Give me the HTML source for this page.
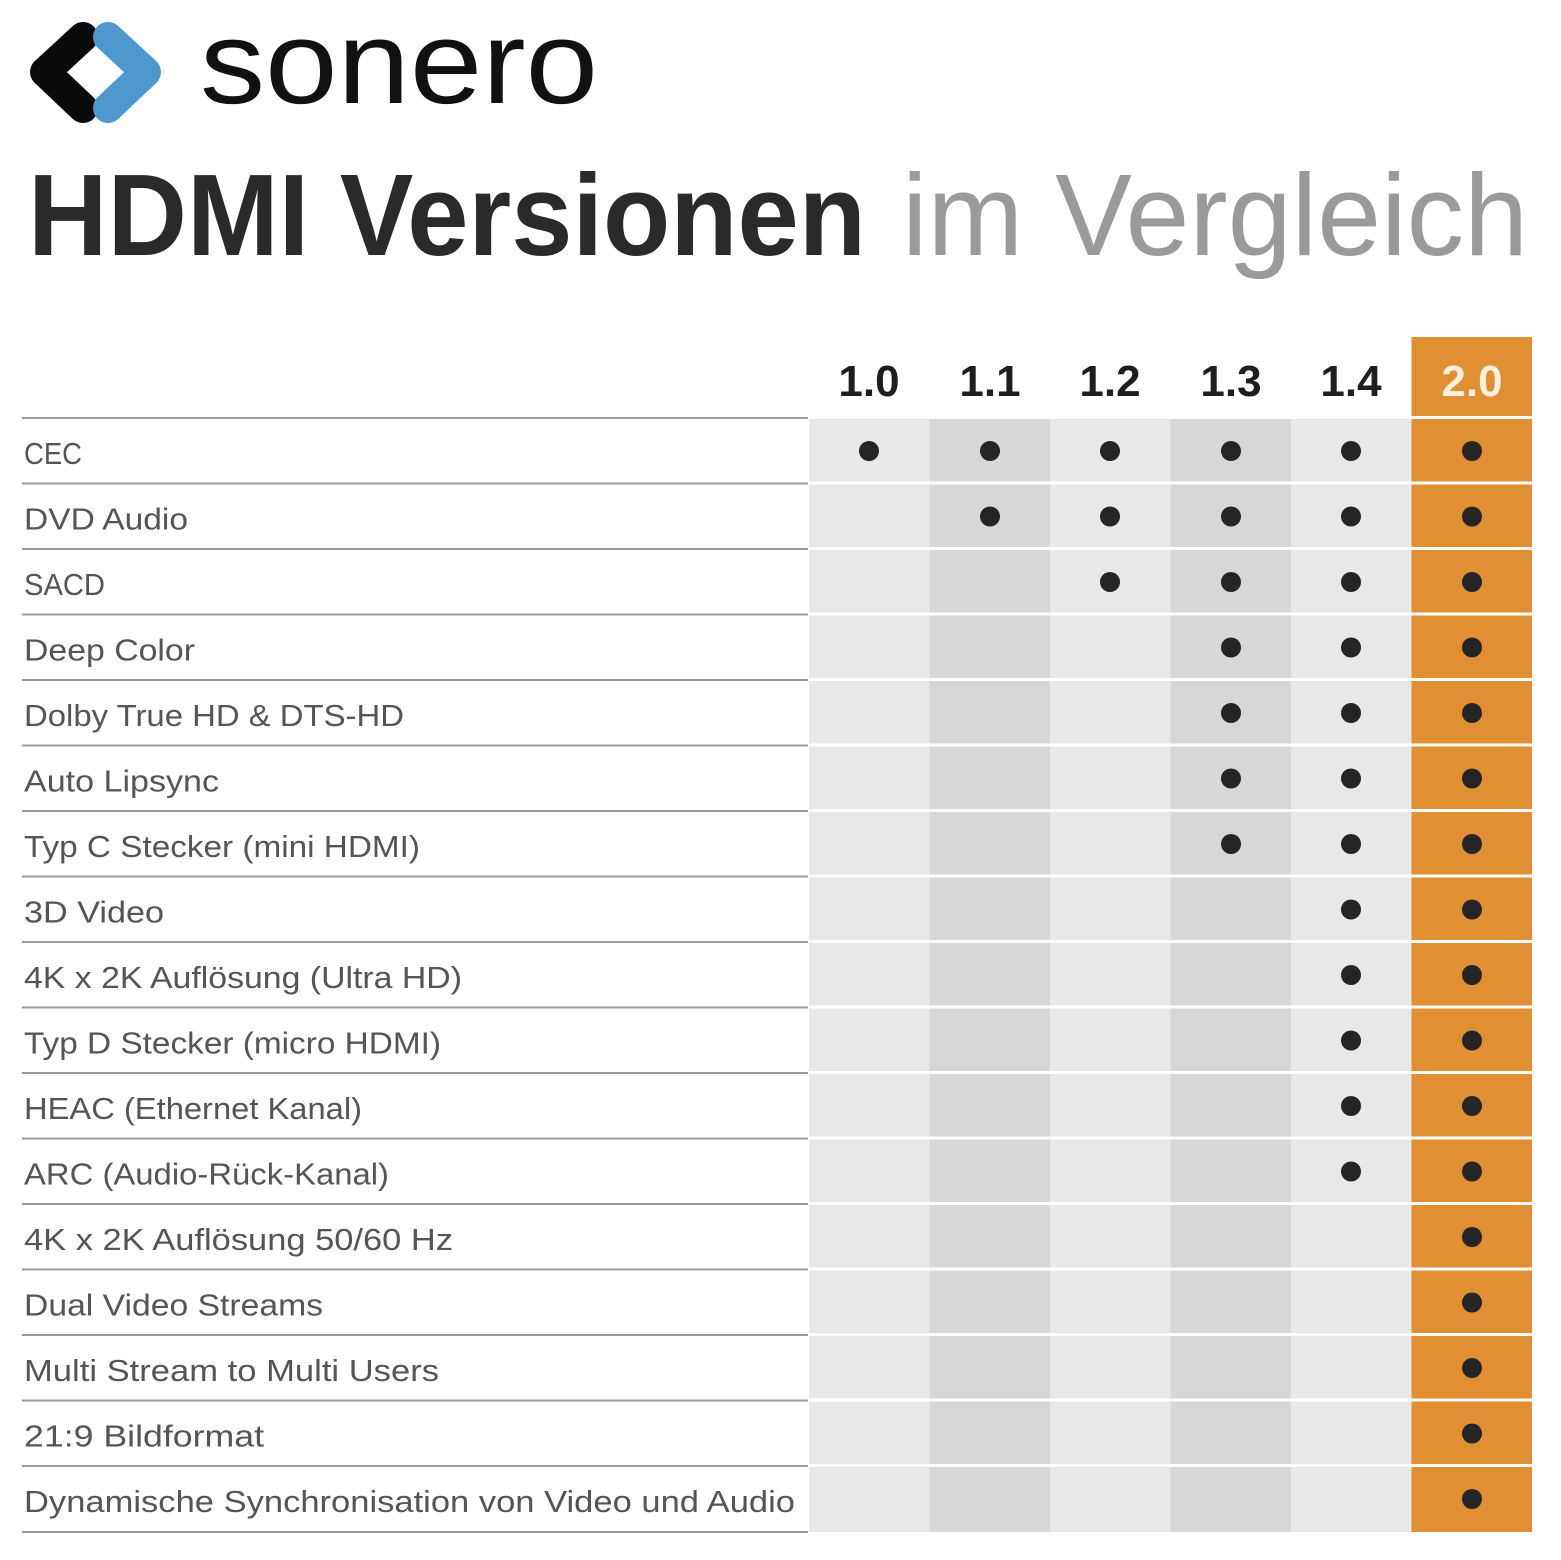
<!DOCTYPE html>
<html><head><meta charset="utf-8"><style>html,body{margin:0;padding:0;background:#fff}svg{display:block}</style></head><body>
<svg width="1561" height="1560" viewBox="0 0 1561 1560" xmlns="http://www.w3.org/2000/svg" font-family="Liberation Sans, sans-serif">
<rect width="1561" height="1560" fill="#fff"/>
<!-- logo -->
<polyline points="83,37 45,72 83,108" fill="none" stroke="#0a0a0a" stroke-width="30" stroke-linejoin="round" stroke-linecap="round"/>
<polyline points="108,37 146,72 108,108" fill="none" stroke="#4f97cf" stroke-width="30" stroke-linejoin="round" stroke-linecap="round"/>
<text x="200" y="103" font-size="118" fill="#111" textLength="398" lengthAdjust="spacingAndGlyphs">sonero</text>
<!-- title -->
<text x="28" y="255" font-size="116" font-weight="bold" fill="#2a2a2a" textLength="838" lengthAdjust="spacingAndGlyphs">HDMI Versionen</text>
<text x="902" y="255" font-size="116" fill="#9a9a9a" textLength="626" lengthAdjust="spacingAndGlyphs">im Vergleich</text>
<!-- column backgrounds -->
<rect x="809" y="419" width="120.5" height="1113" fill="#e8e8e8"/>
<rect x="929.5" y="419" width="120.5" height="1113" fill="#d7d7d7"/>
<rect x="1050" y="419" width="120.5" height="1113" fill="#e8e8e8"/>
<rect x="1170.5" y="419" width="120.5" height="1113" fill="#d7d7d7"/>
<rect x="1291" y="419" width="120.5" height="1113" fill="#e8e8e8"/>
<rect x="1411.5" y="419" width="120.5" height="1113" fill="#e08f32"/>
<rect x="1411.5" y="337" width="120.5" height="79" fill="#e08f32"/>
<!-- headers -->
<g font-size="44" font-weight="bold" text-anchor="middle" fill="#1e1e1e">
<text x="869" y="396">1.0</text><text x="990" y="396">1.1</text><text x="1110" y="396">1.2</text><text x="1231" y="396">1.3</text><text x="1351" y="396">1.4</text><text x="1472" y="396" fill="#fdf1dd">2.0</text>
</g>
<!-- row lines -->
<g fill="#fff">
<rect x="809" y="481.5" width="724" height="3"/><rect x="809" y="547" width="724" height="3"/><rect x="809" y="612.5" width="724" height="3"/><rect x="809" y="678" width="724" height="3"/><rect x="809" y="743.5" width="724" height="3"/><rect x="809" y="809" width="724" height="3"/><rect x="809" y="874.5" width="724" height="3"/><rect x="809" y="940" width="724" height="3"/><rect x="809" y="1005.5" width="724" height="3"/><rect x="809" y="1071" width="724" height="3"/><rect x="809" y="1136.5" width="724" height="3"/><rect x="809" y="1202" width="724" height="3"/><rect x="809" y="1267.5" width="724" height="3"/><rect x="809" y="1333" width="724" height="3"/><rect x="809" y="1398.5" width="724" height="3"/><rect x="809" y="1464" width="724" height="3"/>
</g>
<g fill="#9a9a9a">
<rect x="22" y="417" width="786" height="2"/><rect x="22" y="482.5" width="786" height="2"/><rect x="22" y="548" width="786" height="2"/><rect x="22" y="613.5" width="786" height="2"/><rect x="22" y="679" width="786" height="2"/><rect x="22" y="744.5" width="786" height="2"/><rect x="22" y="810" width="786" height="2"/><rect x="22" y="875.5" width="786" height="2"/><rect x="22" y="941" width="786" height="2"/><rect x="22" y="1006.5" width="786" height="2"/><rect x="22" y="1072" width="786" height="2"/><rect x="22" y="1137.5" width="786" height="2"/><rect x="22" y="1203" width="786" height="2"/><rect x="22" y="1268.5" width="786" height="2"/><rect x="22" y="1334" width="786" height="2"/><rect x="22" y="1399.5" width="786" height="2"/><rect x="22" y="1465" width="786" height="2"/><rect x="22" y="1531" width="786" height="2"/>
</g>
<!-- labels -->
<g font-size="31" fill="#555">
<text x="24" y="464" textLength="58" lengthAdjust="spacingAndGlyphs">CEC</text>
<text x="24" y="529.5" textLength="164" lengthAdjust="spacingAndGlyphs">DVD Audio</text>
<text x="24" y="595" textLength="81" lengthAdjust="spacingAndGlyphs">SACD</text>
<text x="24" y="660.5" textLength="171" lengthAdjust="spacingAndGlyphs">Deep Color</text>
<text x="24" y="726" textLength="380" lengthAdjust="spacingAndGlyphs">Dolby True HD &amp; DTS-HD</text>
<text x="24" y="791.5" textLength="195" lengthAdjust="spacingAndGlyphs">Auto Lipsync</text>
<text x="24" y="857" textLength="396" lengthAdjust="spacingAndGlyphs">Typ C Stecker (mini HDMI)</text>
<text x="24" y="922.5" textLength="140" lengthAdjust="spacingAndGlyphs">3D Video</text>
<text x="24" y="988" textLength="438" lengthAdjust="spacingAndGlyphs">4K x 2K Auflösung (Ultra HD)</text>
<text x="24" y="1053.5" textLength="417" lengthAdjust="spacingAndGlyphs">Typ D Stecker (micro HDMI)</text>
<text x="24" y="1119" textLength="338" lengthAdjust="spacingAndGlyphs">HEAC (Ethernet Kanal)</text>
<text x="24" y="1184.5" textLength="365" lengthAdjust="spacingAndGlyphs">ARC (Audio-Rück-Kanal)</text>
<text x="24" y="1250" textLength="429" lengthAdjust="spacingAndGlyphs">4K x 2K Auflösung 50/60 Hz</text>
<text x="24" y="1315.5" textLength="299" lengthAdjust="spacingAndGlyphs">Dual Video Streams</text>
<text x="24" y="1381" textLength="415" lengthAdjust="spacingAndGlyphs">Multi Stream to Multi Users</text>
<text x="24" y="1446.5" textLength="240" lengthAdjust="spacingAndGlyphs">21:9 Bildformat</text>
<text x="24" y="1512" textLength="771" lengthAdjust="spacingAndGlyphs">Dynamische Synchronisation von Video und Audio</text>
</g>
<!-- dots -->
<g fill="#252525">
<circle cx="869" cy="451" r="10"/><circle cx="990" cy="451" r="10"/><circle cx="1110" cy="451" r="10"/><circle cx="1231" cy="451" r="10"/><circle cx="1351" cy="451" r="10"/><circle cx="1472" cy="451" r="10"/>
<circle cx="990" cy="516.5" r="10"/><circle cx="1110" cy="516.5" r="10"/><circle cx="1231" cy="516.5" r="10"/><circle cx="1351" cy="516.5" r="10"/><circle cx="1472" cy="516.5" r="10"/>
<circle cx="1110" cy="582" r="10"/><circle cx="1231" cy="582" r="10"/><circle cx="1351" cy="582" r="10"/><circle cx="1472" cy="582" r="10"/>
<circle cx="1231" cy="647.5" r="10"/><circle cx="1351" cy="647.5" r="10"/><circle cx="1472" cy="647.5" r="10"/>
<circle cx="1231" cy="713" r="10"/><circle cx="1351" cy="713" r="10"/><circle cx="1472" cy="713" r="10"/>
<circle cx="1231" cy="778.5" r="10"/><circle cx="1351" cy="778.5" r="10"/><circle cx="1472" cy="778.5" r="10"/>
<circle cx="1231" cy="844" r="10"/><circle cx="1351" cy="844" r="10"/><circle cx="1472" cy="844" r="10"/>
<circle cx="1351" cy="909.5" r="10"/><circle cx="1472" cy="909.5" r="10"/>
<circle cx="1351" cy="975" r="10"/><circle cx="1472" cy="975" r="10"/>
<circle cx="1351" cy="1040.5" r="10"/><circle cx="1472" cy="1040.5" r="10"/>
<circle cx="1351" cy="1106" r="10"/><circle cx="1472" cy="1106" r="10"/>
<circle cx="1351" cy="1171.5" r="10"/><circle cx="1472" cy="1171.5" r="10"/>
<circle cx="1472" cy="1237" r="10"/>
<circle cx="1472" cy="1302.5" r="10"/>
<circle cx="1472" cy="1368" r="10"/>
<circle cx="1472" cy="1433.5" r="10"/>
<circle cx="1472" cy="1499" r="10"/>
</g>
</svg>
</body></html>
